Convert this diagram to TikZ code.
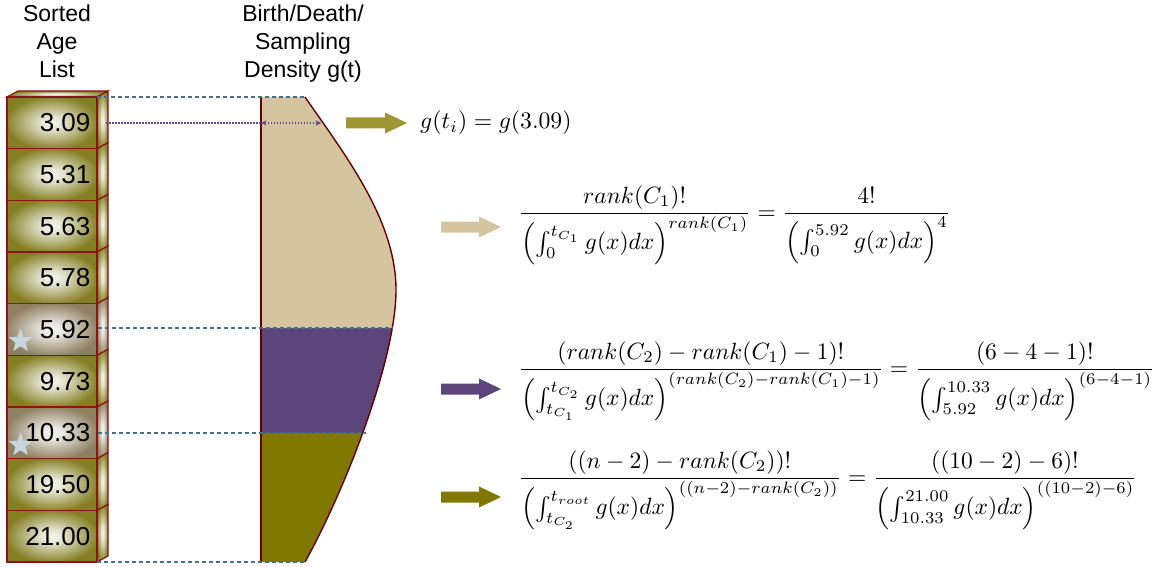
\documentclass[tikz,border=0pt]{standalone}
\usepackage{fontspec}
\newfontfamily\hv{Liberation Sans}
\usetikzlibrary{shapes.geometric}
\definecolor{olivebox}{RGB}{132,127,35}
\definecolor{starbox}{RGB}{143,128,98}
\definecolor{boxedge}{RGB}{140,20,20}
\definecolor{dashc}{RGB}{75,110,130}
\definecolor{tanc}{RGB}{213,196,160}
\definecolor{purc}{RGB}{91,69,122}
\definecolor{olc}{RGB}{128,120,0}
\definecolor{arrowol}{RGB}{158,150,50}
\definecolor{curvec}{RGB}{100,0,0}
\definecolor{starc}{RGB}{200,214,222}
\definecolor{dotc}{RGB}{95,75,140}
\pgfdeclareradialshading{oliveshade}{\pgfpoint{0bp}{0bp}}{%
  color(0bp)=(white!92!olivebox); color(6bp)=(white!80!olivebox);
  color(26bp)=(olivebox); color(50bp)=(olivebox)}
\pgfdeclareradialshading{starshade}{\pgfpoint{0bp}{0bp}}{%
  color(0bp)=(white!92!starbox); color(6bp)=(white!80!starbox);
  color(26bp)=(starbox); color(50bp)=(starbox)}
\newcommand\blockarrow[4]{%
  \fill[#4] (#1,#3-5.5) -- (#2-22,#3-5.5) -- (#2-22,#3-10.5) -- (#2,#3)
    -- (#2-22,#3+10.5) -- (#2-22,#3+5.5) -- (#1,#3+5.5) -- cycle;}
\begin{document}
\begin{tikzpicture}[x=1pt,y=-1pt,
  boxface/.style={draw=boxedge, line width=1.2pt, minimum width=90pt,
    minimum height=51.67pt, inner sep=0pt},
  boxnum/.style={anchor=east, inner sep=0pt, font=\hv\fontsize{26}{30}\selectfont},
  header/.style={anchor=base, inner sep=0pt, font=\hv\fontsize{23}{28}\selectfont},
  guide/.style={dashc, line width=1.3pt, dash pattern=on 4pt off 3pt},
  dotline/.style={dotc, line width=1.4pt, dash pattern=on 1.5pt off 1.5pt},
  eqn/.style={anchor=base west, inner sep=0pt}]
\useasboundingbox (0,0) rectangle (1157,567);
% headers
\node[header] (h1) at (57,22) {Sorted};
\node[header] (h2) at (57,50) {Age};
\node[header] (h3) at (57,78) {List};
\node[header] (h4) at (303,22) {Birth/Death/};
\node[header] (h5) at (303,50) {Sampling};
\node[header] (h6) at (303,78) {Density g(t)};
% density shape
\begin{scope}
\clip (261,97) -- (305,97) .. controls (345,155) and (396,220) .. (396,290)
  .. controls (396,360) and (345,490) .. (305,562) -- (261,562) -- cycle;
\fill[tanc] (250,90) rectangle (400,328);
\fill[purc] (250,328) rectangle (400,433);
\fill[olc] (250,433) rectangle (400,570);
\end{scope}
\draw[curvec, line width=1.4pt] (261,97) -- (261,562);
\draw[curvec, line width=1.4pt] (305,97) .. controls (345,155) and (396,220) .. (396,290)
  .. controls (396,360) and (345,490) .. (305,562);
% boxes
\shade[shading=oliveshade, draw=boxedge, line width=1.2pt]
  (7,97) -- (18,91) -- (108,91) -- (97,97) -- cycle;
\foreach \v/\c [count=\i] in {3.09/olive,5.31/olive,5.63/olive,5.78/olive,
   5.92/star,9.73/olive,10.33/star,19.50/olive,21.00/olive}{
  \pgfmathsetmacro\yt{97+(\i-1)*51.67}
  \shade[shading=\c shade, draw=boxedge, line width=1.2pt]
    (97,\yt) -- (108,\yt-6) -- (108,\yt+45.67) -- (97,\yt+51.67) -- cycle;
  \node[boxface, shading=\c shade] (b\i) at (52,\yt+25.83) {};
  \node[boxnum] (n\i) at ([xshift=-7pt]b\i.east) {\v};
}
\node[star, star points=5, star point ratio=2.4, fill=starc, minimum size=25pt, inner sep=0pt] (s1) at (20.5,341) {};
\node[star, star points=5, star point ratio=2.4, fill=starc, minimum size=25pt, inner sep=0pt] (s2) at (20.5,445) {};
% guide lines
\coordinate (d0) at (305,97);
\coordinate (d1) at (393,328);
\coordinate (d2) at (366,433);
\coordinate (d3) at (305,562);
\coordinate (dl) at (261,123);
\coordinate (dr) at (321,123);
\draw[guide] (97,97) -- (d0);
\draw[guide] (b5.east |- d1) -- (d1);
\draw[guide] (b7.east |- d2) -- (d2);
\draw[guide] (97,562) -- (d3);
\draw[dotline] (106,123) -- (dl);
\draw[dotline, <->, >=stealth] (dl) -- (dr);
% arrows
\blockarrow{346}{407}{123}{arrowol}
\blockarrow{441}{501}{227}{tanc}
\blockarrow{441}{501}{389}{purc}
\blockarrow{441}{501}{497}{olc}
% equations
\node[eqn] (e1) at (420,129) {\scalebox{2.37}{$g(t_i) = g(3.09)$}};
\node[eqn] (e2) at (518,219) {\scalebox{2.35}{$\displaystyle \frac{rank(C_1)!}{\left(\int_0^{t_{C_1}} g(x)dx\right)^{rank(C_1)}} = \frac{4!}{\left(\int_0^{5.92} g(x)dx\right)^4}$}};
\node[eqn] (e3) at (518,375) {\scalebox{2.35}{$\displaystyle \frac{(rank(C_2)-rank(C_1)-1)!}{\left(\int_{t_{C_1}}^{t_{C_2}} g(x)dx\right)^{(rank(C_2)-rank(C_1)-1)}} = \frac{(6-4-1)!}{\left(\int_{5.92}^{10.33} g(x)dx\right)^{(6-4-1)}}$}};
\node[eqn] (e4) at (518,484) {\scalebox{2.35}{$\displaystyle \frac{((n-2)-rank(C_2))!}{\left(\int_{t_{C_2}}^{t_{root}} g(x)dx\right)^{((n-2)-rank(C_2))}} = \frac{((10-2)-6)!}{\left(\int_{10.33}^{21.00} g(x)dx\right)^{((10-2)-6)}}$}};
\end{tikzpicture}
\end{document}
